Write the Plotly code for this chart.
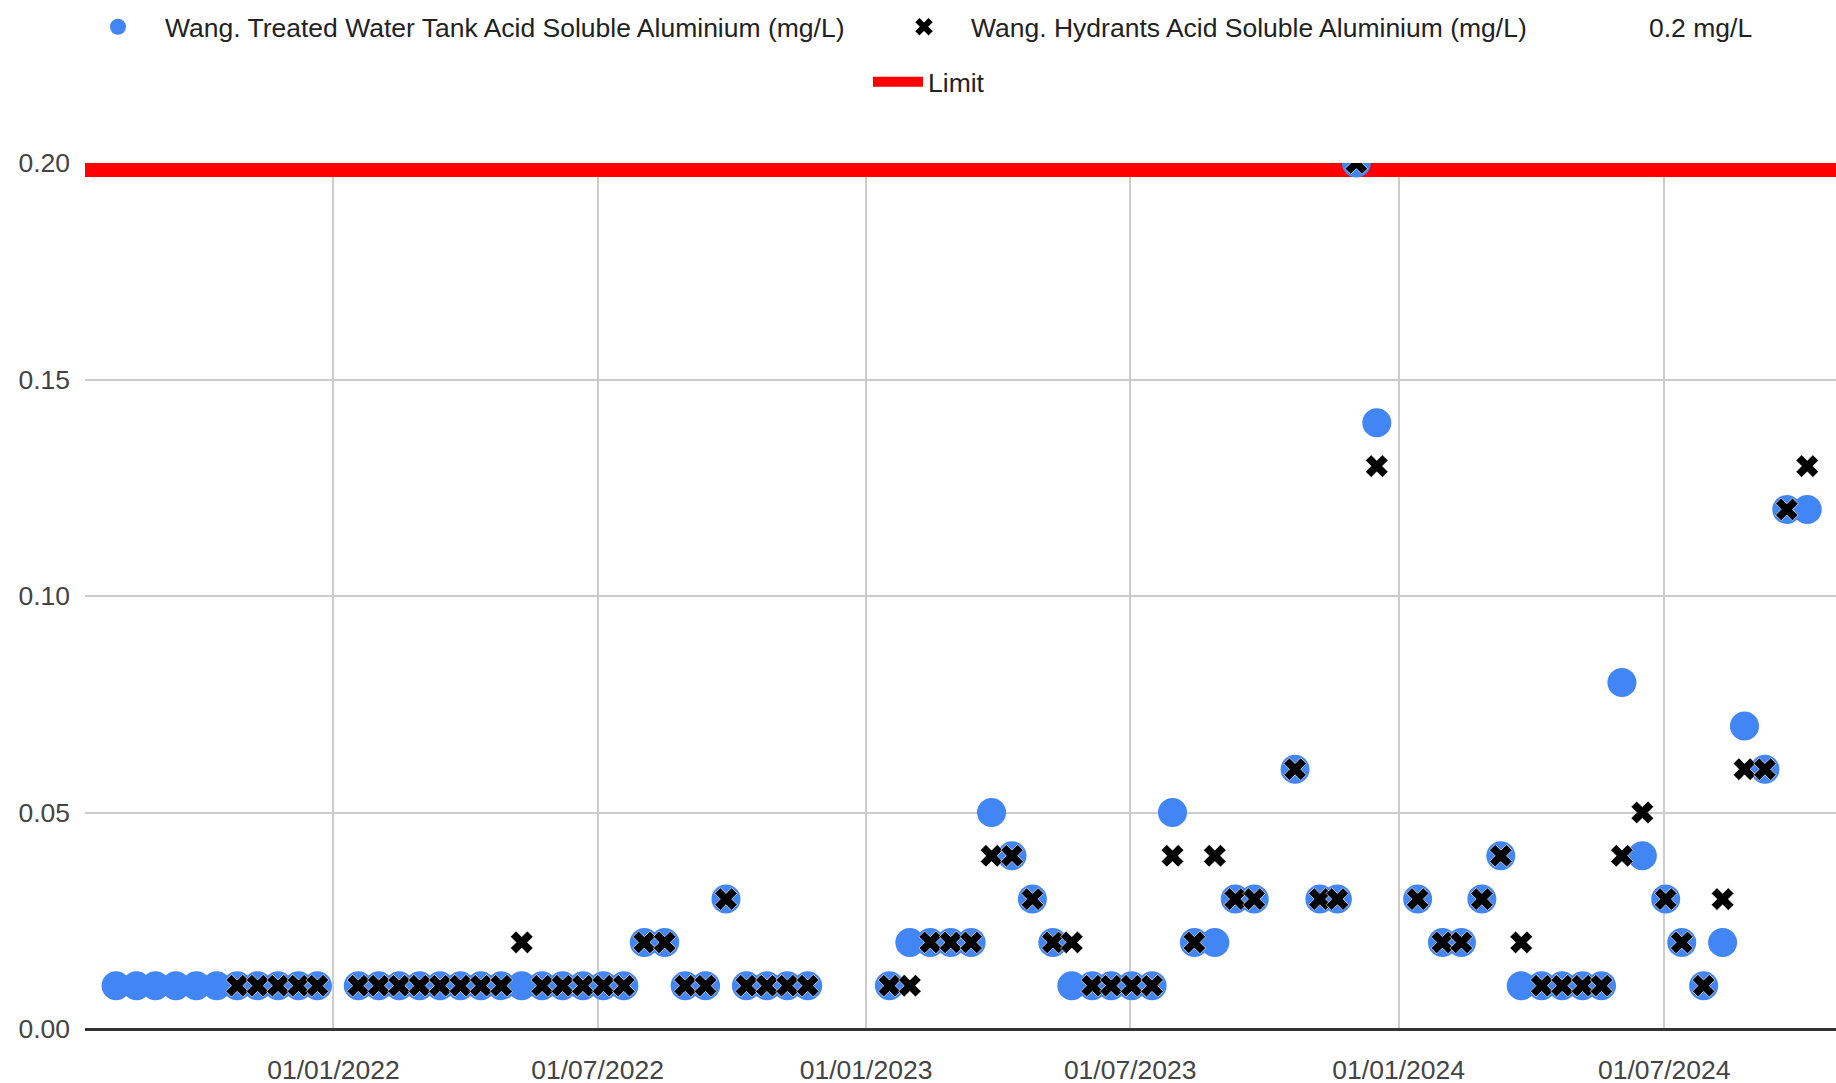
import plotly.graph_objects as go

# ---- data ----
DATES = [
    "2021-08-05", "2021-08-19", "2021-09-01", "2021-09-15", "2021-09-29", "2021-10-13",
    "2021-10-27", "2021-11-10", "2021-11-24", "2021-12-08", "2021-12-21",
    "2022-01-18", "2022-02-01", "2022-02-15", "2022-03-01", "2022-03-15", "2022-03-29",
    "2022-04-12", "2022-04-26", "2022-05-10", "2022-05-24", "2022-06-07", "2022-06-21",
    "2022-07-05", "2022-07-19", "2022-08-02", "2022-08-16", "2022-08-30", "2022-09-13",
    "2022-09-27", "2022-10-11", "2022-10-25", "2022-11-08", "2022-11-22",
    "2023-01-17", "2023-01-31", "2023-02-14", "2023-02-28", "2023-03-14", "2023-03-28",
    "2023-04-11", "2023-04-25", "2023-05-09", "2023-05-22", "2023-06-05", "2023-06-18",
    "2023-07-02", "2023-07-16", "2023-07-30", "2023-08-14", "2023-08-28", "2023-09-11",
    "2023-09-24", "2023-10-22", "2023-11-08", "2023-11-20", "2023-12-03", "2023-12-17",
    "2024-01-14", "2024-01-31", "2024-02-13", "2024-02-27", "2024-03-11", "2024-03-25",
    "2024-04-08", "2024-04-22", "2024-05-06", "2024-05-19", "2024-06-02", "2024-06-16",
    "2024-07-02", "2024-07-13", "2024-07-28", "2024-08-10", "2024-08-25", "2024-09-08",
    "2024-09-23", "2024-10-07",
]

TANK = [
    0.01, 0.01, 0.01, 0.01, 0.01, 0.01,
    0.01, 0.01, 0.01, 0.01, 0.01,
    0.01, 0.01, 0.01, 0.01, 0.01, 0.01,
    0.01, 0.01, 0.01, 0.01, 0.01, 0.01,
    0.01, 0.01, 0.02, 0.02, 0.01, 0.01,
    0.03, 0.01, 0.01, 0.01, 0.01,
    0.01, 0.02, 0.02, 0.02, 0.02, 0.05,
    0.04, 0.03, 0.02, 0.01, 0.01, 0.01,
    0.01, 0.01, 0.05, 0.02, 0.02, 0.03,
    0.03, 0.06, 0.03, 0.03, 0.20, 0.14,
    0.03, 0.02, 0.02, 0.03, 0.04, 0.01,
    0.01, 0.01, 0.01, 0.01, 0.08, 0.04,
    0.03, 0.02, 0.01, 0.02, 0.07, 0.06,
    0.12, 0.12,
]

HYDRANTS = [
    None, None, None, None, None, None,
    0.01, 0.01, 0.01, 0.01, 0.01,
    0.01, 0.01, 0.01, 0.01, 0.01, 0.01,
    0.01, 0.01, 0.02, 0.01, 0.01, 0.01,
    0.01, 0.01, 0.02, 0.02, 0.01, 0.01,
    0.03, 0.01, 0.01, 0.01, 0.01,
    0.01, 0.01, 0.02, 0.02, 0.02, 0.04,
    0.04, 0.03, 0.02, 0.02, 0.01, 0.01,
    0.01, 0.01, 0.04, 0.02, 0.04, 0.03,
    0.03, 0.06, 0.03, 0.03, 0.20, 0.13,
    0.03, 0.02, 0.02, 0.03, 0.04, 0.02,
    0.01, 0.01, 0.01, 0.01, 0.04, 0.05,
    0.03, 0.02, 0.01, 0.03, 0.06, 0.06,
    0.12, 0.13,
]

LIMIT_DATES = ["2021-07-01", "2024-12-31"]
LIMIT_VALUES = [0.2, 0.2]

NAME_TANK = "Wang. Treated Water Tank Acid Soluble Aluminium (mg/L)"
NAME_HYD = "Wang. Hydrants Acid Soluble Aluminium (mg/L)"
NAME_LIMIT_A = "0.2 mg/L"
NAME_LIMIT_B = "Limit"

FONT = "Liberation Sans, Arial, sans-serif"
W, H = 1836, 1083

fig = go.Figure()

fig.add_trace(go.Scatter(
    x=LIMIT_DATES, y=LIMIT_VALUES, mode="lines", name=NAME_LIMIT_B,
    line=dict(color="#ff0000", width=28), legend="legend4", hoverinfo="skip",
))
fig.add_trace(go.Scatter(
    x=LIMIT_DATES, y=LIMIT_VALUES, mode="lines", name=NAME_LIMIT_A,
    line=dict(color="rgba(0,0,0,0)", width=1), legend="legend3", hoverinfo="skip",
))
fig.add_trace(go.Scatter(
    x=DATES, y=TANK, mode="markers", name=NAME_TANK,
    marker=dict(color="#4285f4", size=29, symbol="circle", line=dict(width=0)),
    legend="legend",
))
fig.add_trace(go.Scatter(
    x=DATES, y=HYDRANTS, mode="markers", name=NAME_HYD,
    marker=dict(color="#000000", size=20, symbol="x",
                line=dict(width=0.8, color="rgba(255,255,255,0.8)")),
    legend="legend2",
))

legend_common = dict(
    orientation="h", xref="container", yref="container",
    xanchor="left", yanchor="middle",
    font=dict(family=FONT, size=26.5, color="#222222"),
    itemwidth=84, bgcolor="rgba(0,0,0,0)", borderwidth=0,
)


def lx(px):
    return px / W


def ly(px):
    return 1 - px / H


fig.update_layout(
    width=W, height=H,
    paper_bgcolor="white", plot_bgcolor="white",
    margin=dict(l=85, r=0, t=163, b=H - 1029, pad=0),
    font=dict(family=FONT, size=26.5, color="#444444"),
    showlegend=True,
    legend=dict(legend_common, x=lx(71), y=ly(27)),
    legend2=dict(legend_common, x=lx(877), y=ly(27)),
    legend3=dict(legend_common, x=lx(1555), y=ly(27)),
    legend4=dict(legend_common, x=lx(868), y=ly(82), itemwidth=50),
    xaxis=dict(
        type="date",
        range=["2021-07-14 17:00", "2024-10-26 17:00"],
        tick0="2022-01-01", dtick="M6", tickformat="%d/%m/%Y",
        showgrid=True, gridcolor="#cccccc", gridwidth=2,
        zeroline=False, showline=False, ticks="",
        tickfont=dict(family=FONT, size=26.5, color="#444444"),
        ticklabelstandoff=22, automargin=False,
    ),
    yaxis=dict(
        range=[0, 0.2], tick0=0, dtick=0.05, tickformat=".2f",
        showgrid=True, gridcolor="#cccccc", gridwidth=2,
        zeroline=True, zerolinecolor="#333333", zerolinewidth=3,
        showline=False, ticks="",
        tickfont=dict(family=FONT, size=26.5, color="#444444"),
        ticklabelstandoff=14, automargin=False,
    ),
)

# remove the default page margin so the figure fills the browser window exactly
fig.write_html(
    "out.html",
    config={"displayModeBar": False},
    post_script="document.body.style.margin='0';document.body.style.overflow='hidden';",
)
